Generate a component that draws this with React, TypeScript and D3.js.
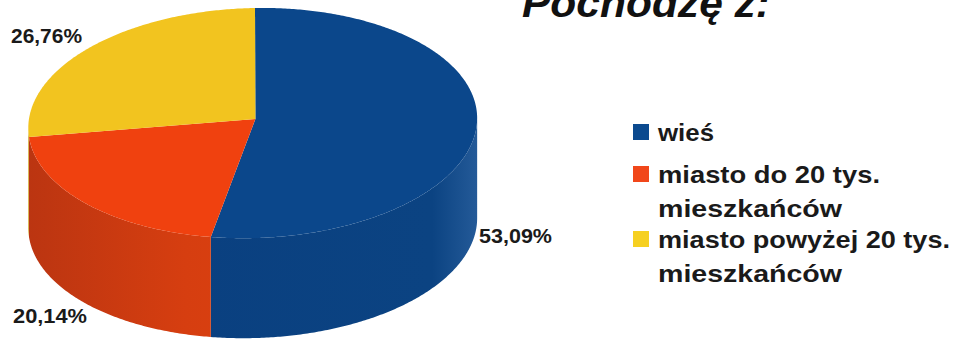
import React from 'react';
import * as d3 from 'd3';

// ---- data ----
const categories = ['wieś', 'miasto do 20 tys. mieszkańców', 'miasto powyżej 20 tys. mieszkańców'];
const values = [53.09, 20.14, 26.76];
const legendLines = [['wieś'], ['miasto do 20 tys.', 'mieszkańców'], ['miasto powyżej 20 tys.', 'mieszkańców']];
const title = 'Pochodzę z:';

// ---- styles ----
const topColors = ['#0b478b', '#f0410f', '#f2c41f'];
const sideStops = [
  ['#073a74', '#0a4080', '#0b4382', '#245a98'],
  ['#bb3511', '#d63e10', '#e3450f', '#e8480f'],
  ['#c99a12', '#dcae18', '#e6b81a', '#eec21d'],
];
const legendColors = ['#0b4a8f', '#f1471a', '#f6d021'];
const textColor = '#1a1a1a';
const font = '"Liberation Sans", Arial, sans-serif';

// ---- layout ----
const W = 959, H = 342;
const depth = 100;
// perspective of the pie's top face: unit-disc points -> picture points
const anchorsDisc: [number, number][] = [[1, 0], [0, -1], [-0.1925, 0.9813], [-0.9938, 0.1115]];
const anchorsPic: [number, number][] = [[477, 114], [255, 8], [211, 237], [29, 137]];
const labelLayout = [
  { x: 479, y: 243, len: 73 },
  { x: 13, y: 323, len: 74 },
  { x: 11, y: 43, len: 71 },
];
const legendLayout = {
  sqX: 633, sq: 16, textX: 658,
  baselines: [[141], [183, 217], [248, 282]],
  lens: [[56], [222, 184], [292, 184]],
};

const fmt = (v: number) => d3.format('.2f')(v).replace('.', ',') + '%';

function solve(A: number[][], b: number[]): number[] {
  const n = b.length;
  const M = A.map((r, i) => [...r, b[i]]);
  for (let c = 0; c < n; c++) {
    let p = c;
    for (let r = c + 1; r < n; r++) if (Math.abs(M[r][c]) > Math.abs(M[p][c])) p = r;
    [M[c], M[p]] = [M[p], M[c]];
    for (let r = 0; r < n; r++) {
      if (r === c) continue;
      const f = M[r][c] / M[c][c];
      for (let k = c; k <= n; k++) M[r][k] -= f * M[c][k];
    }
  }
  return M.map((r, i) => r[n] / r[i]);
}

function homography(src: [number, number][], dst: [number, number][]) {
  const A: number[][] = [];
  const b: number[] = [];
  src.forEach(([x, y], i) => {
    const [X, Y] = dst[i];
    A.push([x, y, 1, 0, 0, 0, -X * x, -X * y]); b.push(X);
    A.push([0, 0, 0, x, y, 1, -Y * x, -Y * y]); b.push(Y);
  });
  const h = solve(A, b);
  return (x: number, y: number): [number, number] => {
    const w = h[6] * x + h[7] * y + 1;
    return [(h[0] * x + h[1] * y + h[2]) / w, (h[3] * x + h[4] * y + h[5]) / w];
  };
}

const Hm = homography(anchorsDisc, anchorsPic);

function proj(a: number, h = 0): [number, number] {
  const [X, Y] = Hm(Math.sin(a), -Math.cos(a));
  return [X, Y + h];
}

function arcPts(a0: number, a1: number, h: number): [number, number][] {
  const n = Math.max(2, Math.ceil(Math.abs(a1 - a0) / 0.01));
  return d3.range(n + 1).map(i => proj(a0 + (a1 - a0) * (i / n), h));
}

export default function App() {
  const arcs = d3.pie<number>().sort(null).value(d => d)(values);
  const line = d3.line();

  // silhouette extremes of the top face
  const samples = d3.range(0, 2 * Math.PI, 0.002);
  const aRight = samples.filter(a => a < Math.PI).reduce((m, a) => (proj(a)[0] > proj(m)[0] ? a : m), 0.5);
  const aLeft = samples.filter(a => a > Math.PI).reduce((m, a) => (proj(a)[0] < proj(m)[0] ? a : m), 4.5);
  const xs = samples.map(a => proj(a)[0]);
  const xMin = d3.min(xs) as number, xMax = d3.max(xs) as number;

  const sides = arcs.map((a, i) => {
    const s = Math.max(a.startAngle, aRight);
    const e = Math.min(a.endAngle, aLeft);
    if (e <= s) return null;
    const pts = [...arcPts(s, e, 0), ...arcPts(e, s, depth)];
    return <path key={'s' + i} d={line(pts) + 'Z'} fill={`url(#side${i})`} />;
  });

  const center = Hm(0, 0);
  const tops = arcs.map((a, i) => {
    const pts: [number, number][] = [center, ...arcPts(a.startAngle, a.endAngle, 0)];
    return <path key={'t' + i} d={line(pts) + 'Z'} fill={topColors[i]} />;
  });

  return (
    <svg width={W} height={H} style={{ position: 'absolute', left: 0, top: 0, background: '#fff' }}
      fontFamily={font} fontWeight="bold">
      <defs>
        {sideStops.map((st, i) => (
          <linearGradient key={i} id={`side${i}`} gradientUnits="userSpaceOnUse" x1={xMin} x2={xMax} y1={0} y2={0}>
            <stop offset="0" stopColor={st[0]} />
            <stop offset="0.35" stopColor={st[1]} />
            <stop offset="0.9" stopColor={st[2]} />
            <stop offset="1" stopColor={st[3]} />
          </linearGradient>
        ))}
      </defs>
      {sides}
      {tops}
      {arcs.map((a, i) => (
        <text key={'l' + i} x={labelLayout[i].x} y={labelLayout[i].y} fontSize={19.5} fill={textColor}
          textLength={labelLayout[i].len} lengthAdjust="spacingAndGlyphs">
          {fmt(values[i])}
        </text>
      ))}
      <text x={522} y={17} fontSize={40} fontStyle="italic" fill="#111" textLength={248} lengthAdjust="spacingAndGlyphs">
        {title}
      </text>
      {categories.map((c, i) => (
        <g key={'g' + i}>
          <rect x={legendLayout.sqX} y={legendLayout.baselines[i][0] - 17} width={legendLayout.sq} height={legendLayout.sq}
            fill={legendColors[i]} />
          {legendLines[i].map((ln, j) => (
            <text key={j} x={legendLayout.textX} y={legendLayout.baselines[i][j]} fontSize={24} fill={textColor}
              textLength={legendLayout.lens[i][j]} lengthAdjust="spacingAndGlyphs">
              {ln}
            </text>
          ))}
        </g>
      ))}
    </svg>
  );
}
